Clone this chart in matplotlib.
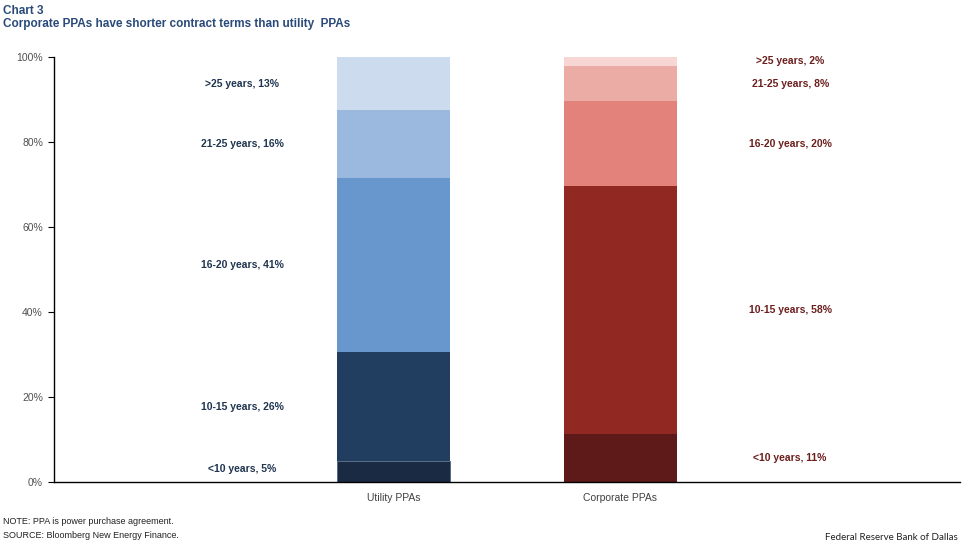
import matplotlib
matplotlib.use("Agg")
import matplotlib.pyplot as plt
import numpy as np

plt.rcParams['font.family'] = ['Liberation Sans', 'DejaVu Sans']

# data (shares in percent, bottom to top)
segments = ["<10 years", "10-15 years", "16-20 years", "21-25 years", ">25 years"]
utility = [4.9, 25.7, 40.9, 16.0, 12.5]
corporate = [11.3, 58.3, 20.0, 8.3, 2.1]
utility_labels = ["5%", "26%", "41%", "16%", "13%"]
corporate_labels = ["11%", "58%", "20%", "8%", "2%"]
categories = ["", "Utility PPAs", "Corporate PPAs", ""]

utility_colors = ["#1a2a42", "#213d5f", "#6897cd", "#9bb9df", "#cddbef"]
corporate_colors = ["#5e1a18", "#922822", "#e2827b", "#ebaca6", "#f7d6d3"]

fig = plt.figure(figsize=(9.71, 5.51), dpi=100)
ax = fig.add_axes([54 / 971, 69 / 551, 906 / 971, 425 / 551])

# stacked bars
bottom_u = 0
bottom_c = 0
for i in range(len(segments)):
    lw = 0.6 if i == 0 else 0
    ax.bar(1, utility[i], width=0.5, bottom=bottom_u, color=utility_colors[i],
           edgecolor="#4f6582", linewidth=lw)
    ax.bar(2, corporate[i], width=0.5, bottom=bottom_c, color=corporate_colors[i],
           linewidth=0)
    # labels next to the bars
    yu = bottom_u + utility[i] / 2
    yc = bottom_c + corporate[i] / 2
    if i == 0:
        yu += 0.7
    if i == 4:
        yc = 99
    ax.text(0.33, yu, f"{segments[i]}, {utility_labels[i]}", ha="center", va="center",
            fontsize=7.5, fontweight="bold", color="#1f3550")
    ax.text(2.75, yc, f"{segments[i]}, {corporate_labels[i]}", ha="center", va="center",
            fontsize=7.5, fontweight="bold", color="#6b1f1d")
    bottom_u += utility[i]
    bottom_c += corporate[i]

ax.set_xlim(-0.5, 3.5)
ax.set_ylim(0, 100)
ax.set_xticks(range(4))
ax.set_xticklabels(categories, fontsize=7.5, color="#404040")
ax.tick_params(axis="x", length=0, pad=8)
ax.set_yticks(np.arange(0, 101, 20))
ax.set_yticklabels([f"{v}%" for v in range(0, 101, 20)], fontsize=7.5, color="#505050")
ax.tick_params(axis="y", length=4, width=0.8, direction="out", pad=4)

for side in ["top", "right"]:
    ax.spines[side].set_visible(False)
ax.spines["left"].set_linewidth(1)
ax.spines["bottom"].set_linewidth(1)

# titles and notes
fig.text(3 / 971, 1 - 11 / 551, "Chart 3", fontsize=8.5, fontweight="bold",
         color="#2a4a7a", va="center")
fig.text(3 / 971, 1 - 24 / 551, "Corporate PPAs have shorter contract terms than utility  PPAs",
         fontsize=8.5, fontweight="bold", color="#2a4a7a", va="center")
fig.text(3 / 971, 1 - 522 / 551, "NOTE: PPA is power purchase agreement.", fontsize=6.5,
         color="#222222", va="center")
fig.text(3 / 971, 1 - 536 / 551, "SOURCE: Bloomberg New Energy Finance.", fontsize=6.5,
         color="#222222", va="center")
fig.text(958 / 971, 1 - 537 / 551, "Federal Reserve Bank of Dallas", fontsize=7,
         color="#222222", ha="right", va="center", family=["Lato", "DejaVu Sans"])

fig.savefig("out.png", dpi=100)
